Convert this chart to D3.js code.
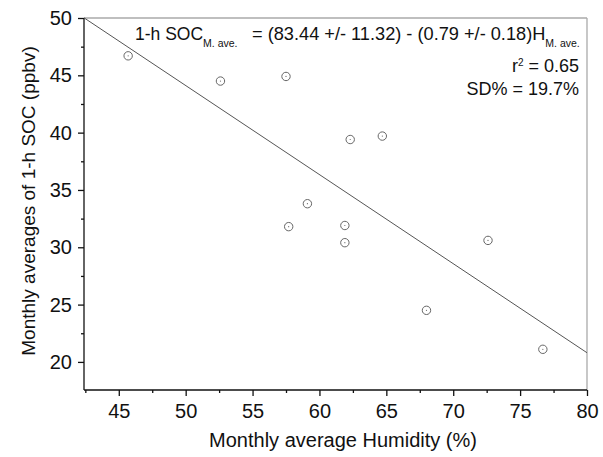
<!DOCTYPE html>
<html>
<head>
<meta charset="utf-8">
<script src="https://cdn.jsdelivr.net/npm/d3@7"></script>
<style>
  body { margin: 0; background: #fff; }
  svg text { font-family: "Liberation Sans", Arial, sans-serif; fill: #111; }
  .axis path, .axis line { stroke: #111; stroke-width: 1.3; }
  .axis text { font-size: 20px; }
</style>
</head>
<body>
<div id="chart"></div>
<script>
// monthly averages: humidity (%) vs 1-h SOC (ppbv)
const humidity = [45.7, 52.6, 57.5, 57.7, 59.1, 61.9, 61.9, 62.3, 64.7, 68.0, 72.6, 76.7];
const soc      = [46.7, 44.5, 44.9, 31.8, 33.8, 31.9, 30.4, 39.4, 39.7, 24.5, 30.6, 21.1];

// fitted line as drawn
const fitIntercept = 82.96;
const fitSlope = -0.777;

const xTicks = [45, 50, 55, 60, 65, 70, 75, 80];
const yTicks = [20, 25, 30, 35, 40, 45, 50];

const width = 603, height = 457;
const margin = { top: 18, right: 16, bottom: 67, left: 84 };
const innerW = width - margin.left - margin.right;
const innerH = height - margin.top - margin.bottom;

const svg = d3.select('#chart').append('svg')
    .attr('width', width)
    .attr('height', height);

const chart = svg.append('g')
    .attr('transform', `translate(${margin.left},${margin.top})`);

const xScale = d3.scaleLinear().domain([42.4, 80]).range([0, innerW]);
const yScale = d3.scaleLinear().domain([17.55, 50]).range([innerH, 0]);

// frame (top and right in grey)
chart.append('line')
    .attr('x1', 0).attr('x2', innerW).attr('y1', 0).attr('y2', 0)
    .attr('stroke', '#aaa').attr('stroke-width', 1.3);
chart.append('line')
    .attr('x1', innerW).attr('x2', innerW).attr('y1', 0).attr('y2', innerH)
    .attr('stroke', '#aaa').attr('stroke-width', 1.3);

// minor ticks
const xMinor = xTicks.map(d => d - 2.5).filter(d => d >= 42.4);
const yMinor = yTicks.map(d => d - 2.5).filter(d => d >= 17.55);

chart.append('g')
    .attr('class', 'axis')
    .attr('transform', `translate(0,${innerH})`)
    .call(d3.axisBottom(xScale).tickValues(xMinor).tickSize(3).tickFormat(''))
    .call(g => g.select('.domain').remove());

chart.append('g')
    .attr('class', 'axis')
    .call(d3.axisLeft(yScale).tickValues(yMinor).tickSize(3).tickFormat(''))
    .call(g => g.select('.domain').remove());

chart.append('g')
    .attr('class', 'axis')
    .attr('transform', `translate(0,${innerH})`)
    .call(d3.axisBottom(xScale).tickValues(xTicks).tickSize(6).tickSizeOuter(0).tickPadding(8))
    .call(g => g.select('.domain').attr('d', `M0,0H${innerW}`));

chart.append('g')
    .attr('class', 'axis')
    .call(d3.axisLeft(yScale).tickValues(yTicks).tickSize(6).tickSizeOuter(0).tickPadding(6))
    .call(g => g.select('.domain').attr('d', `M0,0V${innerH}`));

// regression line
const xDom = xScale.domain();
chart.append('line')
    .attr('x1', xScale(xDom[0])).attr('y1', yScale(fitIntercept + fitSlope * xDom[0]))
    .attr('x2', xScale(xDom[1])).attr('y2', yScale(fitIntercept + fitSlope * xDom[1]))
    .attr('stroke', '#555').attr('stroke-width', 1);

// points
const points = humidity.map((h, i) => ({ h, s: soc[i] }));
chart.selectAll('.pt')
    .data(points)
    .join('circle')
    .attr('class', 'pt')
    .attr('cx', d => xScale(d.h))
    .attr('cy', d => yScale(d.s))
    .attr('r', 4.2)
    .attr('fill', 'none')
    .attr('stroke', '#666')
    .attr('stroke-width', 1);

chart.selectAll('.dot')
    .data(points)
    .join('circle')
    .attr('class', 'dot')
    .attr('cx', d => xScale(d.h))
    .attr('cy', d => yScale(d.s))
    .attr('r', 0.6)
    .attr('fill', '#666');

// axis labels
svg.append('text')
    .attr('x', 343)
    .attr('y', 447)
    .attr('text-anchor', 'middle')
    .style('font-size', '20px')
    .text('Monthly average Humidity (%)');

svg.append('text')
    .attr('transform', 'rotate(-90)')
    .attr('x', -201)
    .attr('y', 35)
    .attr('text-anchor', 'middle')
    .style('font-size', '19px')
    .text('Monthly averages of 1-h SOC (ppbv)');

// annotation
const eqLeft = svg.append('text')
    .attr('x', 135)
    .attr('y', 40)
    .style('font-size', '17.5px');
eqLeft.append('tspan').text('1-h SOC');
eqLeft.append('tspan').attr('dy', 7).style('font-size', '10.5px').text('M. ave.');

const eqRight = svg.append('text')
    .attr('x', 252)
    .attr('y', 40)
    .style('font-size', '18.2px');
eqRight.append('tspan').text('= (83.44 +/- 11.32) - (0.79 +/- 0.18)H');
eqRight.append('tspan').attr('dy', 7).style('font-size', '10.5px').text('M. ave.');

const r2 = svg.append('text')
    .attr('x', 579)
    .attr('y', 72)
    .attr('text-anchor', 'end')
    .style('font-size', '18px');
r2.append('tspan').text('r');
r2.append('tspan').attr('dy', -6).style('font-size', '10px').text('2');
r2.append('tspan').attr('dy', 6).text(' = 0.65');

svg.append('text')
    .attr('x', 579)
    .attr('y', 95)
    .attr('text-anchor', 'end')
    .style('font-size', '18px')
    .text('SD% = 19.7%');
</script>
</body>
</html>
